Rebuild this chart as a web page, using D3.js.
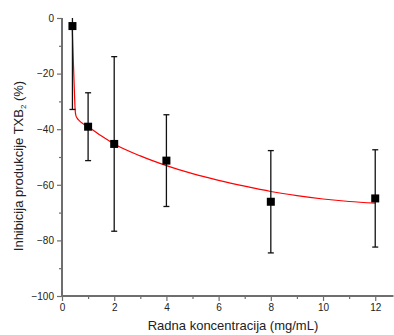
<!DOCTYPE html>
<html><head><meta charset="utf-8">
<script src="https://cdn.jsdelivr.net/npm/d3@7"></script>
<style>body{margin:0;background:#fff}svg{display:block}</style>
</head><body>
<svg id="c" width="394" height="335"></svg>
<script>
const xVals = [0.4, 1, 2, 4, 8, 12];
const yVals = [-2.9, -39.1, -45.3, -51.3, -66.1, -64.9];
const errVals = [30, 12.2, 31.4, 16.5, 18.4, 17.5];
const fitX = [0.39, 0.44, 0.47, 0.5, 0.53, 0.58, 0.65, 0.8, 1, 1.5, 2, 3, 4, 5, 6, 7, 8, 9, 10, 11, 12];
const fitY = [-2.8, -17, -25, -32.5, -35, -36, -36.8, -38, -39.1, -42.4, -45.3, -49.6, -53.1, -56, -58.4, -60.5, -62.4, -63.9, -65.1, -66, -66.6];
const xTicks = [0, 2, 4, 6, 8, 10, 12];
const yTicks = [0, -20, -40, -60, -80, -100];

const svg = d3.select('#c');
const x = d3.scaleLinear().domain([0, 12.7]).range([62, 393.5]);
const y = d3.scaleLinear().domain([-100, 0]).range([296, 18]);
const axisColor = '#6e6e6e';
const font = 'Liberation Sans, Arial, sans-serif';

svg.append('defs').append('clipPath').attr('id','clip')
  .append('rect').attr('x', 62).attr('y', 18).attr('width', 332).attr('height', 278);

const xMinor = d3.range(1, 13, 2);
const yMinor = [-10, -30, -50, -70, -90];

const gx = svg.append('g').attr('transform', `translate(0,${y(-100)})`)
  .call(d3.axisBottom(x).tickValues(xTicks).tickSize(5).tickPadding(3).tickFormat(d3.format('d')));
svg.append('g').attr('transform', `translate(0,${y(-100)})`)
  .call(d3.axisBottom(x).tickValues(xMinor).tickSize(3).tickFormat(''))
  .call(g => g.select('.domain').remove());
const gy = svg.append('g').attr('transform', `translate(${x(0)},0)`)
  .call(d3.axisLeft(y).tickValues(yTicks).tickSize(5).tickPadding(3).tickFormat(d3.format('d')));
svg.append('g').attr('transform', `translate(${x(0)},0)`)
  .call(d3.axisLeft(y).tickValues(yMinor).tickSize(3).tickFormat(''))
  .call(g => g.select('.domain').remove());

svg.selectAll('.domain').attr('stroke', axisColor).attr('stroke-width', 2);
svg.selectAll('.tick line').attr('stroke', axisColor).attr('stroke-width', 1.2);
svg.selectAll('.tick text').attr('fill', '#222').style('font-family', font).style('font-size', '10px');
gx.select('.domain').attr('d', `M${x(0)},0H393.5`);
gy.select('.domain').attr('d', `M0,${y(-100)}V${y(0)}`);

const plot = svg.append('g').attr('clip-path', 'url(#clip)');

const pts = fitX.map((d, i) => [d, fitY[i]]);
plot.append('path').datum(pts)
  .attr('d', d3.line().x(d => x(d[0])).y(d => y(d[1])).curve(d3.curveMonotoneX))
  .attr('fill', 'none').attr('stroke', '#ff0000').attr('stroke-width', 1.2);

const data = xVals.map((d, i) => ({x: d, y: yVals[i], e: errVals[i]}));
const eb = plot.selectAll('.eb').data(data).enter().append('g');
eb.append('line').attr('x1', d => x(d.x)).attr('x2', d => x(d.x))
  .attr('y1', d => y(d.y + d.e)).attr('y2', d => y(d.y - d.e))
  .attr('stroke', '#111').attr('stroke-width', 1.3);
eb.append('line').attr('x1', d => x(d.x) - 3).attr('x2', d => x(d.x) + 3)
  .attr('y1', d => y(d.y + d.e)).attr('y2', d => y(d.y + d.e))
  .attr('stroke', '#111').attr('stroke-width', 1.3);
eb.append('line').attr('x1', d => x(d.x) - 3).attr('x2', d => x(d.x) + 3)
  .attr('y1', d => y(d.y - d.e)).attr('y2', d => y(d.y - d.e))
  .attr('stroke', '#111').attr('stroke-width', 1.3);

svg.selectAll('.pt').data(data).enter().append('rect')
  .attr('x', d => x(d.x) - 4).attr('y', d => y(d.y) - 4)
  .attr('width', 8).attr('height', 8).attr('fill', '#000');

svg.append('text').attr('x', 233).attr('y', 330).attr('text-anchor', 'middle')
  .style('font-family', font).style('font-size', '13px').attr('fill', '#222')
  .text('Radna koncentracija (mg/mL)');
const yl = svg.append('text').attr('transform', 'translate(23,166) rotate(-90)').attr('text-anchor', 'middle')
  .style('font-family', font).style('font-size', '13px').attr('fill', '#222');
yl.append('tspan').text('Inhibicija produkcije TXB');
yl.append('tspan').attr('dy', 3).style('font-size', '8px').text('2');
yl.append('tspan').attr('dy', -3).text('  (%)');
</script>
</body></html>
